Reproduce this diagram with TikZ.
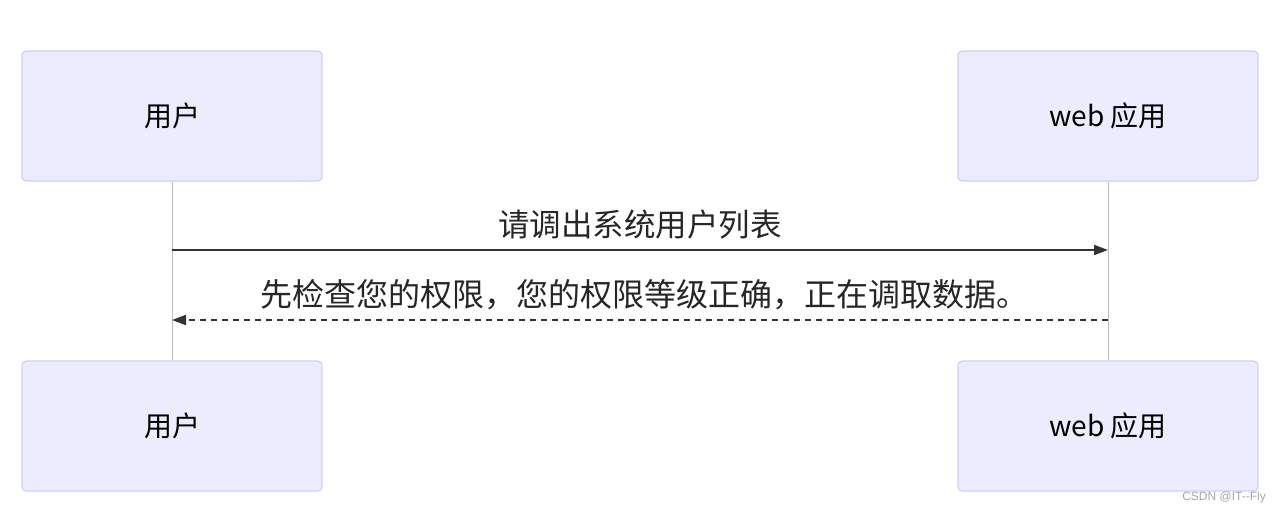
\documentclass[tikz,border=0pt]{standalone}
\usepackage{fontspec}
\setmainfont{Noto Sans CJK SC}
\newfontfamily\wmfont{Liberation Sans}
\usetikzlibrary{arrows.meta}
\definecolor{boxfill}{HTML}{ECECFF}
\definecolor{boxline}{HTML}{D2CFF5}
\definecolor{lifeline}{HTML}{BDBDBD}
\definecolor{msg}{HTML}{333333}
\tikzset{
  actor/.style={draw=boxline, line width=1.2pt, fill=boxfill, rounded corners=4pt,
    minimum width=300pt, minimum height=130pt, inner sep=0pt,
    font=\fontsize{28}{32}\selectfont, text=black},
  lifeln/.style={draw=lifeline, line width=1pt},
  msgline/.style={draw=msg, line width=1.8pt, -{Triangle[length=14pt,width=10pt]}},
  msgdash/.style={msgline, line width=2pt, dash pattern=on 6pt off 5pt},
  msglabel/.style={font=\fontsize{31.5}{36}\selectfont, text=black!85, inner sep=0pt},
}
\begin{document}
\begin{tikzpicture}[x=1pt,y=-1pt]
\useasboundingbox (0,0) rectangle (1280,512);
\fill[white] (0,0) rectangle (1280,512);
\node[actor] (u1) at (172,116) {用户};
\node[actor] (w1) at (1108,116) {web 应用};
\node[actor] (u2) at (172,426) {用户};
\node[actor] (w2) at (1108,426) {web 应用};
\draw[lifeln] (u1.south) -- (u2.north);
\draw[lifeln] (w1.south) -- (w2.north);
\coordinate (ua) at (172,250);
\coordinate (wa) at (1108,250);
\coordinate (ub) at (172,320);
\coordinate (wb) at (1108,320);
\draw[msgline] (ua) -- (wa);
\draw[msgdash] (wb) -- (ub);
\node[msglabel] (l1) at (640,225) {请调出系统用户列表};
\node[msglabel, font=\fontsize{32}{36}\selectfont] (l2) at (644,295) {先检查您的权限，您的权限等级正确，正在调取数据。};
\node[font=\wmfont\fontsize{12}{14}\selectfont, text=gray!70, anchor=east, inner sep=0pt] (wm) at (1266,497) {CSDN @IT--Fly};
\end{tikzpicture}
\end{document}
